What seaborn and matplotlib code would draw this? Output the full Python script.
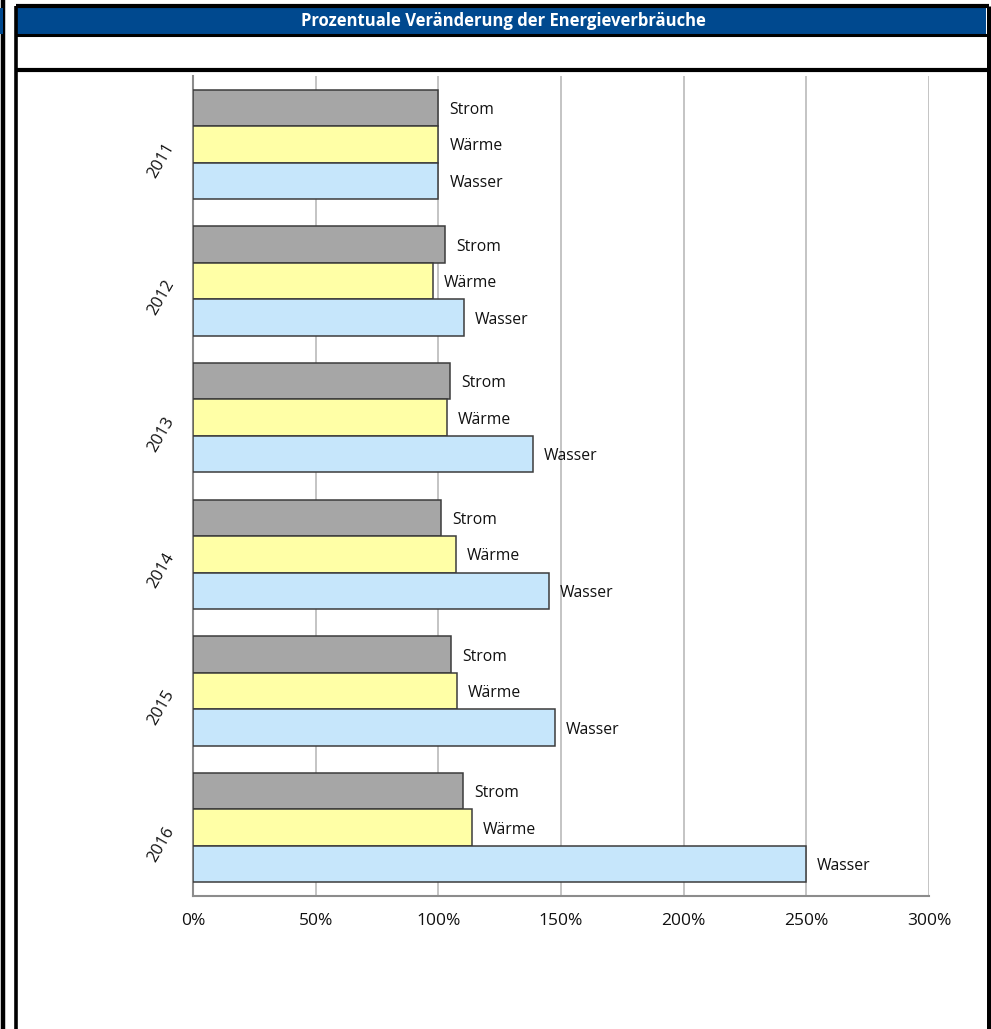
import pandas as pd
import matplotlib.pyplot as plt
import seaborn as sns
from matplotlib.patches import Rectangle
from matplotlib.lines import Line2D

# data (percent relative to 2011)
years = ["2011", "2012", "2013", "2014", "2015", "2016"]
series = ["Strom", "Wärme", "Wasser"]
strom = [100, 102.7, 104.8, 101.1, 105.2, 110.1]
waerme = [100, 97.8, 103.5, 107.2, 107.6, 113.7]
wasser = [100, 110.5, 138.6, 145.1, 147.6, 249.9]
x_ticks = [0, 50, 100, 150, 200, 250, 300]
x_labels = ["0%", "50%", "100%", "150%", "200%", "250%", "300%"]
title = "Prozentuale Veränderung der Energieverbräuche"

colors = ["#a6a6a6", "#ffffa6", "#c6e6fb"]

df = pd.DataFrame({
    "Jahr": years * 3,
    "Art": [s for s in series for _ in years],
    "Wert": strom + waerme + wasser,
})

sns.set_style("white")
plt.rcParams["font.family"] = ["Open Sans", "DejaVu Sans"]

W, H = 991, 1029
fig = plt.figure(figsize=(W / 100, H / 100), dpi=100)

def fx(px):
    return px / W

def fy(py):
    return 1 - py / H

# --------------------
# frame and title bar
# --------------------
for (x0, y0, x1, y1, lw) in [
    (15.5, 6, 988.5, 6, 3.0),
    (15.5, 35, 988.5, 35, 2.2),
    (15.5, 70, 988.5, 70, 3.0),
    (15.5, 6, 15.5, 1029, 2.6),
    (988.5, 6, 988.5, 1029, 3.6),
    (3, 0, 3, 1029, 3.2),
]:
    fig.lines.append(Line2D([fx(x0), fx(x1)], [fy(y0), fy(y1)], transform=fig.transFigure,
                            color="black", linewidth=lw, solid_capstyle="butt"))
fig.patches.append(Rectangle((fx(17), fy(34)), fx(969), 26 / H, transform=fig.transFigure,
                             facecolor="#00498f", edgecolor="none"))
fig.patches.append(Rectangle((fx(0), fy(34)), fx(3), 26 / H, transform=fig.transFigure,
                             facecolor="#00498f", edgecolor="none", zorder=5))

fig.text(fx(503), fy(21), title, color="white", fontsize=12, fontweight="bold",
         ha="center", va="center")

# --------------------
# bar chart
# --------------------
ax = fig.add_axes([fx(193), fy(896), fx(929) - fx(193), (896 - 76) / H])
sns.barplot(data=df, y="Jahr", x="Wert", hue="Art", order=years, hue_order=series,
            palette=colors, orient="h", width=0.8, saturation=1,
            edgecolor="#3c3c3c", linewidth=1.1, legend=False, ax=ax, zorder=3)

# series names next to the bars
for cont, name in zip(ax.containers, series):
    for bar in cont:
        ax.annotate(name, (bar.get_width(), bar.get_y() + bar.get_height() / 2),
                    xytext=(8, -1.5), textcoords="offset points",
                    ha="left", va="center", fontsize=11.3, color="#111111")

ax.set_xlim(0, 300)
ax.set_xticks(x_ticks)
ax.set_xticklabels(x_labels, fontsize=12.5, color="#111111")
ax.set_xlabel("")
ax.set_ylabel("")
ax.set_yticks(range(len(years)))
ax.set_yticklabels(years, rotation=60, fontsize=12, color="#111111",
                   va="center", ha="right", rotation_mode="anchor")
ax.tick_params(axis="x", length=0, pad=12)
ax.tick_params(axis="y", length=0, pad=16)
ax.grid(axis="x", color="#b4b4b4", linewidth=1.1, zorder=0)
ax.grid(axis="y", visible=False)
ax.set_axisbelow(True)
for side in ["top", "right"]:
    ax.spines[side].set_visible(False)
for side in ["left", "bottom"]:
    ax.spines[side].set_color("#8c8c8c")
    ax.spines[side].set_linewidth(1.5)

plt.savefig("out.png", dpi=100)
plt.close()
